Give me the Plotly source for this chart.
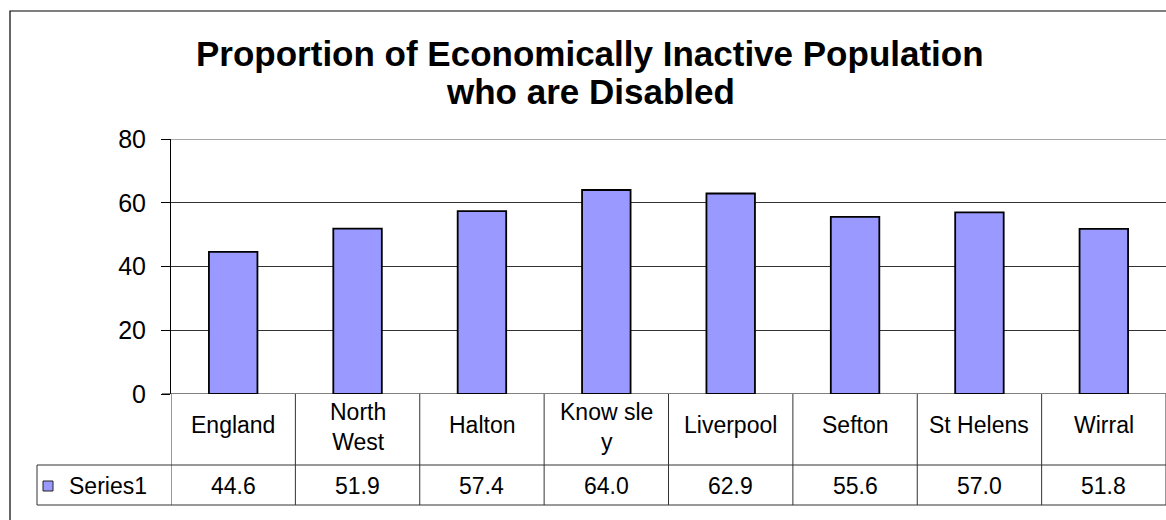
import plotly.graph_objects as go

# ---- data ----
categories = ["England", "North West", "Halton", "Knowsley", "Liverpool", "Sefton", "St Helens", "Wirral"]
header_labels = ["England", "North<br>West", "Halton", "Know sle<br>y", "Liverpool", "Sefton", "St Helens", "Wirral"]
series_name = "Series1"
values = [44.6, 51.9, 57.4, 64.0, 62.9, 55.6, 57.0, 51.8]
y_ticks = [0, 20, 40, 60, 80]
title_lines = ["Proportion of Economically Inactive Population", "who are Disabled"]

# ---- layout geometry (pixels) ----
W, H = 1166, 520
PL, PR = 171, 1166          # plot area left/right
PT, PB = 139, 394           # plot area top/bottom
FONT = "Arial, 'Liberation Sans', sans-serif"
BAR_COLOR = "#9999FF"
LINE_COLOR = "#333333"

def px(xp):
    return (xp - PL) / (PR - PL)

def py(yp):
    return (PB - yp) / (PB - PT)

fig = go.Figure()
fig.add_trace(go.Bar(
    x=categories, y=values, name=series_name,
    width=0.39,
    marker=dict(color=BAR_COLOR, line=dict(color="black", width=1.8)),
    showlegend=False,
))

shapes = []
annotations = []

# outer frame
shapes.append(dict(type="rect", xref="paper", yref="paper",
                   x0=px(10), x1=px(1175), y0=py(535), y1=py(11),
                   line=dict(color="black", width=1.2), fillcolor="rgba(0,0,0,0)"))

# top gridline (at range maximum)
shapes.append(dict(type="line", xref="paper", yref="y", x0=0, x1=1,
                   y0=y_ticks[-1], y1=y_ticks[-1], layer="below",
                   line=dict(color="#8a8a8a", width=1.5)))

# title (two centred lines)
for line, yc in zip(title_lines, [53, 91]):
    annotations.append(dict(x=px(590), xref="paper", y=py(yc), yref="paper",
                            text=f"<b>{line}</b>", showarrow=False,
                            xanchor="center", yanchor="middle",
                            font=dict(family=FONT, size=35, color="black")))

# table rows
row1_bottom = 465
row2_bottom = 505
n = len(categories)
for yy in (row1_bottom, row2_bottom):
    shapes.append(dict(type="line", xref="paper", yref="paper",
                       x0=px(37), x1=px(1175), y0=py(yy), y1=py(yy),
                       line=dict(color=LINE_COLOR, width=1)))
# legend cell left edge
shapes.append(dict(type="line", xref="paper", yref="paper",
                   x0=px(37), x1=px(37), y0=py(row1_bottom), y1=py(row2_bottom),
                   line=dict(color=LINE_COLOR, width=1)))
# vertical column boundaries
for i in range(n + 1):
    shapes.append(dict(type="line", xref="x", yref="paper",
                       x0=i - 0.5, x1=i - 0.5, y0=py(PB), y1=py(row2_bottom),
                       line=dict(color=LINE_COLOR, width=1)))

# header labels and values
for cat, lab, v in zip(categories, header_labels, values):
    two = "<br>" in lab
    annotations.append(dict(x=cat, xref="x", y=py(427 if two else 425), yref="paper",
                            text=lab, showarrow=False, xanchor="center", yanchor="middle",
                            font=dict(family=FONT, size=23, color="black")))
    annotations.append(dict(x=cat, xref="x", y=py(486), yref="paper",
                            text=f"{v:.1f}", showarrow=False, xanchor="center", yanchor="middle",
                            font=dict(family=FONT, size=23, color="black")))

# legend key
shapes.append(dict(type="rect", xref="paper", yref="paper",
                   x0=px(43), x1=px(53), y0=py(491), y1=py(481),
                   line=dict(color="#222222", width=1), fillcolor=BAR_COLOR))
annotations.append(dict(x=px(67), xref="paper", y=py(486), yref="paper",
                        text=series_name, showarrow=False, xanchor="left", yanchor="middle",
                        font=dict(family=FONT, size=23, color="black")))

fig.update_layout(
    width=W, height=H,
    margin=dict(l=PL, r=W - PR, t=PT, b=H - PB, pad=0),
    paper_bgcolor="white", plot_bgcolor="white",
    xaxis=dict(showticklabels=False, showgrid=False, zeroline=False,
               showline=False, ticks="", range=[-0.5, n - 0.5]),
    yaxis=dict(range=[0, 80], tickvals=y_ticks, showgrid=True, gridcolor=LINE_COLOR,
               gridwidth=1, zeroline=False, showline=True, linecolor="black", linewidth=1,
               ticks="outside", ticklen=9, tickcolor="black", ticklabelstandoff=10,
               tickfont=dict(family=FONT, size=25, color="black")),
    shapes=shapes, annotations=annotations,
)
# zero line (x axis)
fig.add_shape(type="line", xref="paper", yref="y", x0=px(162), x1=px(1175), y0=0, y1=0,
              line=dict(color="black", width=1))

fig.write_html("out.html", config={"displayModeBar": False},
               post_script="document.body.style.margin='0px';document.body.style.overflow='hidden';")
